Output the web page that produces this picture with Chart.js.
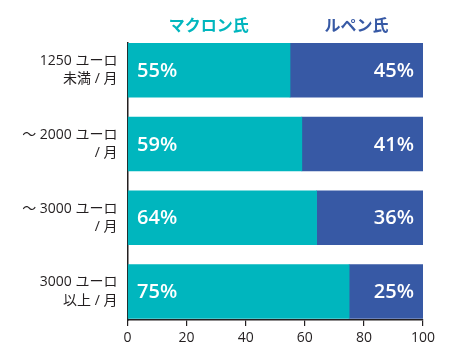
<!DOCTYPE html>
<html lang="ja">
<head>
<meta charset="UTF-8">
<title>所得別 投票先</title>
<script src="https://cdn.jsdelivr.net/npm/chart.js"></script>
<style>
  html, body { margin: 0; padding: 0; background: #fff; }
  .wrap { width: 453px; height: 359px; }
</style>
</head>
<body>
<div class="wrap"><canvas id="chart" width="453" height="359"></canvas></div>
<script>
const categories = [
  ['1250 ユーロ', '未満 / 月'],
  ['～ 2000 ユーロ', '/ 月'],
  ['～ 3000 ユーロ', '/ 月'],
  ['3000 ユーロ', '以上 / 月']
];
const seriesNames = ['マクロン氏', 'ルペン氏'];
const macron = [55, 59, 64, 75];
const lepen = [45, 41, 36, 25];
const xTicks = [0, 20, 40, 60, 80, 100];

const teal = '#00b6be';
const blue = '#3759a5';
const ink = '#231f20';
const jpFont = '"Noto Sans CJK JP", "Noto Sans", sans-serif';
const mixFont = '"Open Sans", "Noto Sans CJK JP", sans-serif';

// value labels inside the bars + series names above the first bar
const barText = {
  id: 'barText',
  afterDatasetsDraw(chart) {
    const ctx = chart.ctx;
    const xs = chart.scales.x;
    ctx.save();
    ctx.fillStyle = '#fff';
    ctx.font = '600 20px "Open Sans", sans-serif';
    ctx.textBaseline = 'middle';
    chart.getDatasetMeta(0).data.forEach((bar, i) => {
      ctx.textAlign = 'left';
      ctx.fillText(macron[i] + '%', bar.base + 9, bar.y + 1);
    });
    chart.getDatasetMeta(1).data.forEach((bar, i) => {
      ctx.textAlign = 'right';
      ctx.fillText(lepen[i] + '%', bar.x - 9, bar.y + 1);
    });
    ctx.font = 'bold 16px ' + jpFont;
    ctx.textAlign = 'center';
    const topY = chart.chartArea.top - 18;
    ctx.fillStyle = teal;
    ctx.fillText(seriesNames[0], xs.getPixelForValue(macron[0] / 2), topY);
    ctx.fillStyle = blue;
    ctx.fillText(seriesNames[1], xs.getPixelForValue(macron[0] + lepen[0] / 2), topY);
    ctx.restore();
  }
};

new Chart(document.getElementById('chart'), {
  type: 'bar',
  data: {
    datasets: [
      {
        label: seriesNames[0],
        data: macron.map((v, i) => ({ x: v, y: i })),
        backgroundColor: teal,
        barThickness: 54
      },
      {
        label: seriesNames[1],
        data: lepen.map((v, i) => ({ x: v, y: i })),
        backgroundColor: blue,
        barThickness: 54
      }
    ]
  },
  options: {
    indexAxis: 'y',
    responsive: false,
    animation: false,
    layout: { padding: { top: 43, right: 30, left: 0, bottom: 0 } },
    plugins: {
      legend: { display: false },
      tooltip: { enabled: false }
    },
    scales: {
      x: {
        type: 'linear',
        stacked: true,
        min: 0,
        max: 100,
        bounds: 'data',
        afterBuildTicks: (s) => { s.ticks = xTicks.map(v => ({ value: v })); },
        afterFit: (s) => { s.height = 39; },
        grid: { drawOnChartArea: false, drawTicks: true, tickLength: 6, color: ink, lineWidth: 1.2 },
        border: { display: true, color: ink, width: 1.5 },
        ticks: { color: ink, padding: 4, font: { family: '"Open Sans", sans-serif', size: 14 } }
      },
      y: {
        type: 'linear',
        stacked: true,
        reverse: true,
        bounds: 'data',
        offset: false,
        min: -0.3695,
        max: 3.386,
        afterBuildTicks: (s) => { s.ticks = categories.map((_, i) => ({ value: i })); },
        afterFit: (s) => { s.width = 127.5; },
        grid: { display: false, drawTicks: false, offset: false },
        border: { display: true, color: ink, width: 1.5 },
        ticks: {
          color: ink,
          padding: 10,
          autoSkip: false,
          font: { family: mixFont, size: 14, lineHeight: 1.3 },
          callback: (v) => categories[v]
        }
      }
    }
  },
  plugins: [barText]
});
</script>
</body>
</html>
